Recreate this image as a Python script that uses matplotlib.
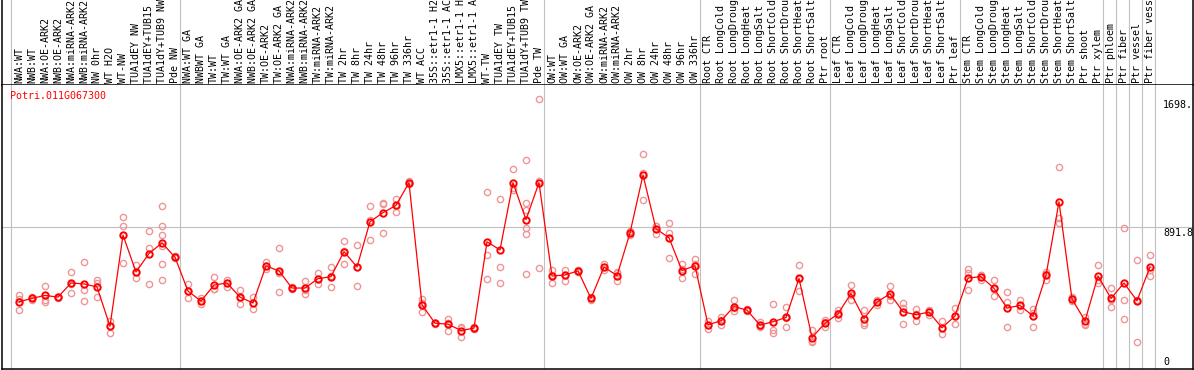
import matplotlib
matplotlib.use("Agg")
import matplotlib.pyplot as plt
import matplotlib.transforms as mtransforms

# ---------------- data ----------------
gene_id = "Potri.011G067300"

sample_labels = [
    "NWA:WT", "NWB:WT", "NWA:OE-ARK2", "NWB:OE-ARK2", "NWA:miRNA-ARK2", "NWB:miRNA-ARK2",
    "NW 0hr", "WT H2O", "WT-NW", "TUA1dEY NW", "TUA1dEY+TUB15 NW", "TUA1dY+TUB9 NW", "Pde NW",
    "NWA:WT GA", "NWBWT GA", "TW:WT", "TW:WT GA", "NWA:OE-ARK2 GA", "NWB:OE-ARK2 GA",
    "TW:OE-ARK2", "TW:OE-ARK2 GA", "NWA:miRNA-ARK2 GA", "NWB:miRNA-ARK2 GA", "TW:miRNA-ARK2",
    "TW:miRNA-ARK2 GA", "TW 2hr", "TW 8hr", "TW 24hr", "TW 48hr", "TW 96hr", "TW 336hr",
    "WT ACC", "35S::etr1-1 H2O", "35S::etr1-1 ACC", "LMX5::etr1-1 H2O", "LMX5::etr1-1 ACC",
    "WT-TW", "TUA1dEY TW", "TUA1dEY+TUB15 TW", "TUA1dY+TUB9 TW", "Pde TW",
    "OW:WT", "OW:WT GA", "OW:OE-ARK2", "OW:OE-ARK2 GA", "OW:miRNA-ARK2", "OW:miRNA-ARK2 GA",
    "OW 2hr", "OW 8hr", "OW 24hr", "OW 48hr", "OW 96hr", "OW 336hr",
    "Root CTR", "Root LongCold", "Root LongDrought", "Root LongHeat", "Root LongSalt",
    "Root ShortCold", "Root ShortDrought", "Root ShortHeat", "Root ShortSalt", "Ptr root",
    "Leaf CTR", "Leaf LongCold", "Leaf LongDrought", "Leaf LongHeat", "Leaf LongSalt",
    "Leaf ShortCold", "Leaf ShortDrought", "Leaf ShortHeat", "Leaf ShortSalt", "Ptr leaf",
    "Stem CTR", "Stem LongCold", "Stem LongDrought", "Stem LongHeat", "Stem LongSalt",
    "Stem ShortCold", "Stem ShortDrought", "Stem ShortHeat", "Stem ShortSalt", "Ptr shoot",
    "Ptr xylem", "Ptr phloem", "Ptr fiber", "Ptr vessel", "Ptr fiber vessel",
]

group_sizes = [13, 28, 12, 10, 10, 11, 1, 1, 1, 1]

mean_values = [
    423, 444, 463, 452, 541, 535, 516, 269, 842, 610, 726, 793, 703,
    490, 427, 528, 541, 452, 415, 648, 617, 509, 509, 568, 581, 738, 642, 926, 983, 1029,
    1172, 404, 288, 282, 242, 257, 800, 749, 1172, 939, 1172,
    585, 591, 617, 444, 642, 587, 856, 1220, 882, 825, 619, 650,
    278, 303, 393, 370, 276, 297, 324, 570, 198, 288,
    347, 475, 317, 421, 473, 360, 341, 358, 259, 333,
    572, 581, 507, 383, 400, 333, 589, 1052, 440, 303, 585,
    444, 541, 429, 642,
]

replicates = [
    [467, 442, 372], [455, 444, 432], [524, 436, 423], [452, 448, 455], [610, 535, 478],
    [674, 494, 429], [557, 541, 452], [299, 269, 225], [959, 901, 667], [652, 610, 570],
    [869, 762, 535], [1027, 901, 842, 772, 661, 560], [709, 703, 697],
    [537, 444, 489], [446, 408, 427], [579, 503, 502], [560, 541, 516], [499, 408, 449],
    [452, 379, 414], [674, 648, 631], [764, 482, 605], [509, 505, 513], [555, 473, 499],
    [602, 535, 567], [644, 516, 583], [806, 663, 745], [781, 642, 524], [1027, 812, 939],
    [1046, 1035, 857], [1071, 989, 1027], [1180, 1172, 1165], [442, 358, 412],
    [290, 288, 286], [316, 238, 292], [263, 204, 259], [262, 257, 252],
    [1115, 720, 566], [1067, 644, 543], [1256, 1136, 1124],
    [1313, 1046, 999, 888, 846, 600], [1698, 1182, 636],
    [625, 541, 589], [625, 555, 593], [625, 609, 617], [455, 432, 444],
    [663, 621, 642], [608, 551, 602], [867, 842, 859], [1355, 1235, 1065],
    [899, 850, 897], [920, 856, 699], [658, 572, 627], [694, 598, 658],
    [303, 254, 277], [324, 276, 309], [436, 362, 381], [370, 375, 365], [295, 263, 270],
    [408, 246, 225], [389, 263, 320], [654, 490, 566], [244, 179, 171], [307, 263, 294],
    [368, 320, 353], [528, 431, 466], [370, 288, 278], [436, 404, 423], [524, 436, 459],
    [415, 282, 383], [379, 299, 345], [368, 341, 365], [303, 219, 255], [383, 282, 334],
    [631, 606, 497], [593, 560, 590], [560, 461, 500], [484, 419, 263], [431, 373, 396],
    [377, 267, 355], [610, 562, 595], [1273, 951, 920], [427, 450, 443], [326, 282, 274],
    [652, 541, 562], [509, 387, 436], [888, 434, 314], [686, 169, 432], [718, 585, 623],
]

y_ticks = [0, 891.8, 1698]
y_tick_labels = ["0", "891.8", "1698."]

# ---------------- figure ----------------
W, H = 1194, 370
fig = plt.figure(figsize=(W / 100, H / 100), dpi=100)
font = "DejaVu Sans Mono"
fs = 7.2

x_left_px, x_right_px = 2, 1193
first_px, step_px = 19, 13
xlim = ((x_left_px - first_px) / step_px, (x_right_px - first_px) / step_px)

header_bottom_px = 85
plot_bottom_px = 369

hax = fig.add_axes([x_left_px / W, (H - header_bottom_px) / H,
                    (x_right_px - x_left_px) / W, header_bottom_px / H])
ax = fig.add_axes([x_left_px / W, (H - plot_bottom_px) / H,
                   (x_right_px - x_left_px) / W, (plot_bottom_px - header_bottom_px) / H])

for a in (hax, ax):
    a.set_xlim(*xlim)
    a.set_xticks([])
    a.set_yticks([])
    for s in a.spines.values():
        s.set_color("black")
        s.set_linewidth(1.1)
hax.spines["top"].set_visible(False)
ax.spines["top"].set_visible(False)
hax.set_ylim(0, 1)

# y scale: 0 at bottom, 1698 about 270 px above it
ymax = (plot_bottom_px - header_bottom_px) / 270 * 1698
ax.set_ylim(0, ymax)

# group separators
bounds = [-0.6]
acc = 0
for g in group_sizes:
    acc += g
    bounds.append(acc - 0.6)
for b in bounds:
    for a in (hax, ax):
        a.axvline(b, color="#c0c0c0", lw=0.8, zorder=0)

# horizontal mid grid line
ax.axhline(y_ticks[1], color="#c0c0c0", lw=0.8, zorder=0)

# header labels (long ones run off the top edge, as in the original)
htrans = mtransforms.blended_transform_factory(hax.transData, hax.transAxes)
for i, lab in enumerate(sample_labels):
    hax.text(i, 0.02, lab, rotation=90, ha="center", va="bottom",
             fontsize=fs, family=font, color="black", transform=htrans)

# replicates
xs_r, ys_r = [], []
for i, reps in enumerate(replicates):
    for v in reps:
        xs_r.append(i)
        ys_r.append(v)
ax.plot(xs_r, ys_r, linestyle="none", marker="o", ms=4.5, mfc="none",
        mec="#f09595", mew=1.0, zorder=2)

# mean line
xs = list(range(len(mean_values)))
ax.plot(xs, mean_values, color="#ff0000", lw=0.9, marker="o", ms=4.6,
        mfc="none", mec="#ff0000", mew=1.4, zorder=3)

# gene title
ax.text(8 / (x_right_px - x_left_px), 0.96, gene_id, transform=ax.transAxes,
        ha="left", va="center", fontsize=fs, family=font, color="#ff0000")

# right-side value labels
xlab = (1163 - first_px) / step_px
for v, t in zip(y_ticks, y_tick_labels):
    va = "bottom" if v == 0 else "top"
    off = 2 if v == 0 else -1
    ax.annotate(t, (xlab, v), xytext=(0, off), textcoords="offset pixels",
                ha="left", va=va, fontsize=fs, family=font, color="black")

fig.savefig("out.png", dpi=100)
